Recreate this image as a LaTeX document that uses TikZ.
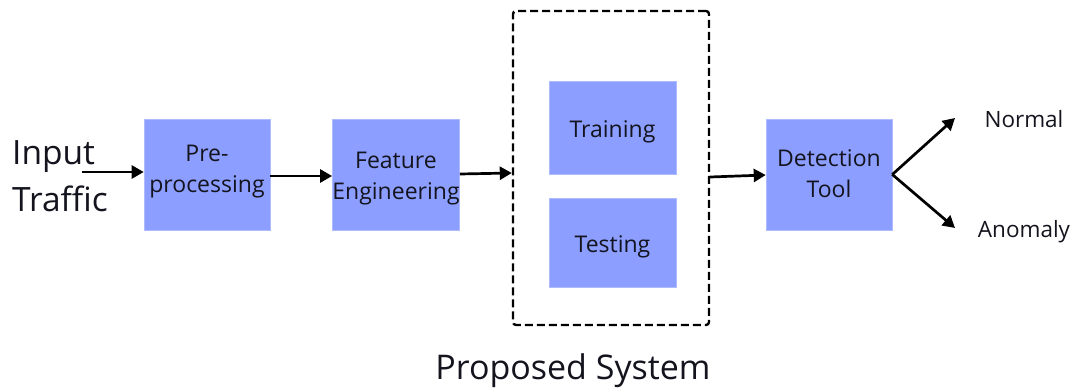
\documentclass[tikz,border=0pt]{standalone}
\usepackage{fontspec}
\setmainfont{Open Sans}
\usetikzlibrary{arrows.meta}
\definecolor{boxblue}{RGB}{140,158,255}
\definecolor{ink}{RGB}{20,20,30}
\tikzset{
  block/.style={fill=boxblue, draw=boxblue!70!white, line width=0.6pt, inner sep=0pt,
    align=center, text=ink, text depth=0pt, font=\fontsize{23}{30.5}\selectfont},
  arr/.style={line width=2.7pt, -{Triangle[length=12pt,width=13pt]}},
  frame/.style={draw=black, line width=2.4pt, dash pattern=on 8pt off 4pt, rounded corners=3pt},
  lbl/.style={inner sep=0pt, text=ink},
  outlbl/.style={lbl, anchor=base, font=\fontsize{22.5}{27}\selectfont}
}
\begin{document}
\begin{tikzpicture}[x=1pt,y=-1pt]
  \useasboundingbox (0,0) rectangle (1072,391);

  % processing blocks
  \node[block, minimum width=126pt, minimum height=111pt, text height=35pt] (pre) at (207,174.5) {Pre-\\processing};
  \node[block, minimum width=126pt, minimum height=111pt, text height=49pt] (feat) at (396,174.5) {Feature\\Engineering};
  \node[block, minimum width=126pt, minimum height=111pt, text height=45pt] (det) at (829,174.5) {Detection\\Tool};

  % proposed system group
  \node[frame, minimum width=196pt, minimum height=314pt, inner sep=0pt] (sys) at (611,168) {};
  \node[block, minimum width=127pt, minimum height=93pt, text height=20.4pt] (train) at (612.5,127.5) {Training};
  \node[block, minimum width=127pt, minimum height=89pt, text height=19.6pt] (test) at (612.5,242.5) {Testing};
  \node[lbl, anchor=base, font=\fontsize{34}{40}\selectfont] (title) at (573,379) {Proposed System};

  % input and outputs
  \node[lbl, anchor=west, align=left, font=\fontsize{33.5}{47}\selectfont] (input) at (12,176) {Input\\Traffic};
  \node[outlbl] (normal) at (1024,127) {Normal};
  \node[outlbl] (anomaly) at (1024,237) {Anomaly};

  \coordinate (inStart) at (82,172);
  \coordinate (nTip) at (955,118);
  \coordinate (aTip) at (955,228);

  % connectors
  \draw[arr] (inStart) -- ([yshift=2.5pt]pre.west);
  \draw[arr] ([yshift=-1.5pt]pre.east) -- ([yshift=-1.5pt]feat.west);
  \draw[arr] ([yshift=0.5pt]feat.east) -- ([yshift=-5pt]sys.west);
  \draw[arr] ([yshift=-9pt]sys.east) -- ([yshift=-0.5pt]det.west);
  \draw[arr] (det.east) -- (nTip);
  \draw[arr] (det.east) -- (aTip);
\end{tikzpicture}
\end{document}
